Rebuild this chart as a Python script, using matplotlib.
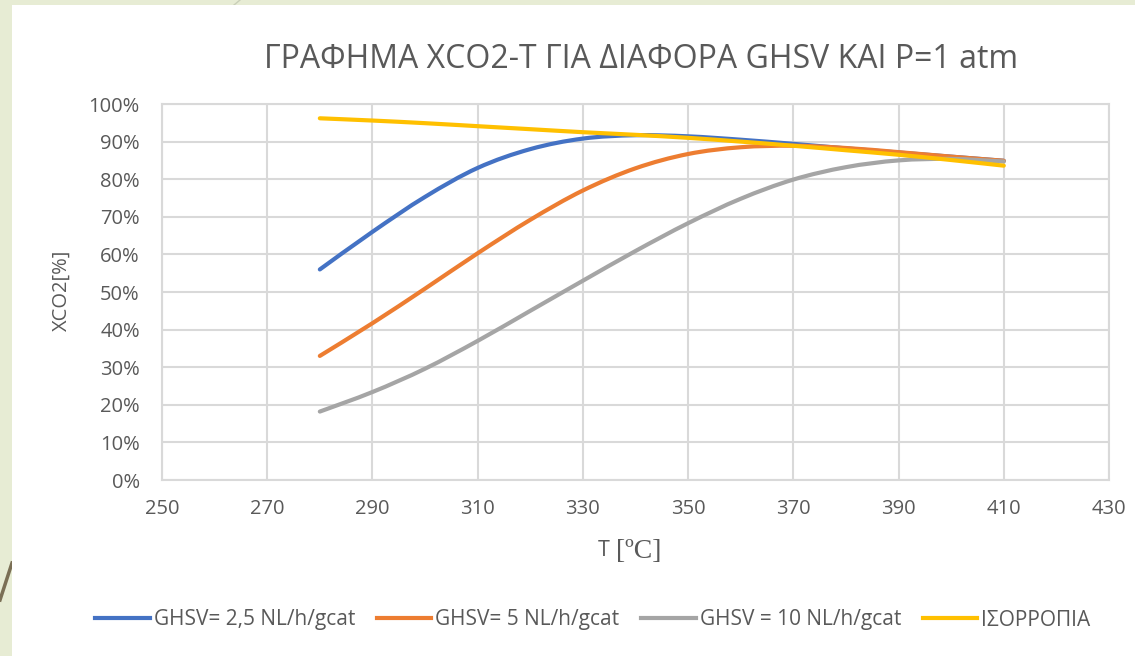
import matplotlib
matplotlib.use('Agg')
import matplotlib.pyplot as plt
from matplotlib.patches import Rectangle, PathPatch
from matplotlib.lines import Line2D
from matplotlib.path import Path

# temperature (C) and CO2 conversion (%)
T = [280, 290, 300, 310, 320, 330, 340, 350, 360, 370, 380, 390, 400, 410]
ghsv_2_5 = [56.0, 66.0, 75.3, 83.0, 88.0, 90.8, 91.7, 91.4, 90.5, 89.4, 88.2, 87.1, 86.0, 84.9]
ghsv_5 = [33.0, 41.7, 50.9, 60.3, 69.2, 77.0, 82.9, 86.7, 88.5, 88.9, 88.3, 87.2, 86.0, 84.9]
ghsv_10 = [18.2, 23.4, 29.6, 37.0, 45.0, 53.0, 60.9, 68.3, 74.8, 79.9, 83.2, 85.0, 85.4, 84.7]
equilibrium = [96.2, 95.6, 94.9, 94.1, 93.3, 92.5, 91.8, 91.0, 90.0, 88.9, 87.7, 86.5, 85.1, 83.6]

labels = ['GHSV= 2,5 NL/h/gcat', 'GHSV= 5 NL/h/gcat', 'GHSV = 10 NL/h/gcat', 'ΙΣΟΡΡΟΠΙΑ']
colors = ['#4472C4', '#ED7D31', '#A5A5A5', '#FFC000']
x_ticks = list(range(250, 431, 20))
y_ticks = list(range(0, 101, 10))

plt.rcParams['font.family'] = ['Open Sans', 'DejaVu Sans']
text_col = '#595959'
W, H = 1135, 656


def smooth_path(xs, ys):
    # Bezier path through the points, like Excel's "smoothed line"
    pts = list(zip(xs, ys))
    verts = [pts[0]]
    codes = [Path.MOVETO]
    n = len(pts)
    for i in range(n - 1):
        p0 = pts[max(i - 1, 0)]
        p1 = pts[i]
        p2 = pts[i + 1]
        p3 = pts[min(i + 2, n - 1)]
        c1 = (p1[0] + (p2[0] - p0[0]) / 6, p1[1] + (p2[1] - p0[1]) / 6)
        c2 = (p2[0] - (p3[0] - p1[0]) / 6, p2[1] - (p3[1] - p1[1]) / 6)
        verts += [c1, c2, p2]
        codes += [Path.CURVE4] * 3
    return Path(verts, codes)


fig = plt.figure(figsize=(W / 100, H / 100), dpi=100)
fig.patch.set_facecolor('#E7ECD4')
# white chart area of the slide
fig.patches.append(Rectangle((12 / W, 0), 1 - 12 / W, 1 - 5 / H, transform=fig.transFigure,
                             facecolor='white', edgecolor='none', zorder=-1))
# slide decoration lines
fig.lines.append(Line2D([0, 12 / W], [1 - 600 / H, 1 - 563 / H], transform=fig.transFigure,
                        color='#7A6F55', lw=2.5, zorder=-1))
fig.lines.append(Line2D([234 / W, 240 / W], [1 - 5 / H, 1.0], transform=fig.transFigure,
                        color='#C9CFB8', lw=1, zorder=-1))

ax = fig.add_axes([162 / W, 1 - 480 / H, 947 / W, 376 / H])
ax.set_facecolor('none')

series = [ghsv_2_5, ghsv_5, ghsv_10, equilibrium]
handles = []
for i, vals in enumerate(series):
    ax.add_patch(PathPatch(smooth_path(T, vals), facecolor='none', edgecolor=colors[i], lw=3,
                           capstyle='round', joinstyle='round', zorder=3 + i))
    handles.append(Line2D([], [], color=colors[i], lw=3, label=labels[i]))

ax.set_xlim(250, 430)
ax.set_ylim(0, 100)
ax.set_xticks(x_ticks)
ax.set_yticks(y_ticks)
ax.set_yticklabels([f'{v}%' for v in y_ticks])
ax.grid(True, color='#D9D9D9', lw=1.5)
ax.set_axisbelow(True)
for s in ax.spines.values():
    s.set_color('#D9D9D9')
    s.set_linewidth(1.5)
ax.tick_params(length=0, labelsize=14.5, labelcolor=text_col)
ax.tick_params(axis='y', pad=16)
ax.tick_params(axis='x', pad=14)

fig.text(641 / W, 1 - 60 / H, 'ΓΡΑΦΗΜΑ XCO2-T ΓΙΑ ΔΙΑΦΟΡΑ GHSV KAI P=1 atm', ha='center', va='center',
         fontsize=23, color=text_col)
fig.text(62 / W, 1 - 290 / H, 'XCO2[%]', rotation=90, ha='center', va='center',
         fontsize=14.5, color=text_col)
fig.text(616 / W, 1 - 551 / H, 'T ', ha='right', va='center', fontsize=15.5, color=text_col)
fig.text(616 / W, 1 - 551 / H, '[ºC]', ha='left', va='center', fontsize=20,
         color=text_col, family=['Liberation Serif'])

fig.legend(handles=handles, loc='center', bbox_to_anchor=(593 / W, 1 - 620 / H), ncol=4,
           frameon=False, fontsize=15, handlelength=2.6, columnspacing=1.05, handletextpad=0.2,
           labelcolor=text_col)

fig.savefig('out.png', dpi=100)
